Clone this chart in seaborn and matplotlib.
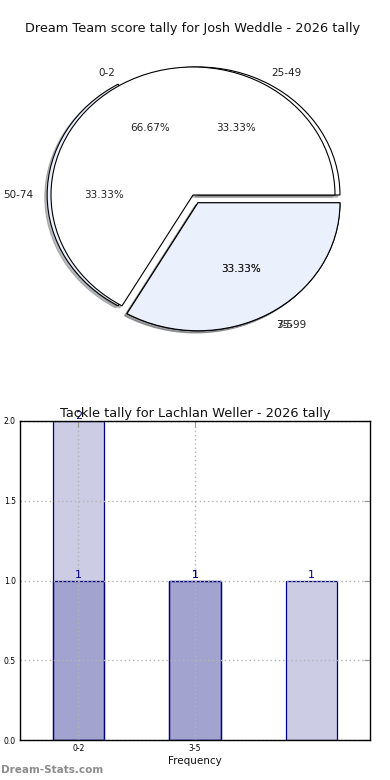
import matplotlib
matplotlib.use('Agg')
import matplotlib.pyplot as plt
import seaborn as sns
import pandas as pd

# ---------------- data ----------------
pie_title = "Dream Team score tally for Josh Weddle - 2026 tally"
pie_a_labels = ['0-2', '3-5']
pie_a_values = [2, 1]
pie_b_labels = ['25-49', '50-74', '75-99']
pie_b_values = [1, 1, 1]

bar_title = "Tackle tally for Lachlan Weller - 2026 tally"
bar_categories = ['0-2', '3-5', '6-8']
bar_series_a = [2, 1, 1]
bar_series_b = [1, 1]
bar_tick_labels = ['0-2', '3-5']
y_ticks = [0.0, 0.5, 1.0, 1.5, 2.0]

# ---------------- style ----------------
sns.set_theme(style='white')
plt.rcParams['font.family'] = ['DejaVu Sans']

W, H = 390, 780
fig = plt.figure(figsize=(W / 100, H / 100), dpi=100)

light = '#eaf0fc'
wedge_kw = dict(edgecolor='black', linewidth=0.8)
text_kw = dict(fontsize=7.5, color='#222222')
shadow_kw = {'ox': -0.012, 'oy': -0.012, 'shade': 0.5}

# ---------------- pie ----------------
ax1 = fig.add_axes([15.5 / W, 1 - 355 / H, 355 / W, 320 / H])
wb, tb, pb = ax1.pie(pie_b_values, labels=pie_b_labels, explode=[0.0, 0.027, 0.07],
                     colors=['white', light, 'white'], autopct='%1.2f%%',
                     shadow=shadow_kw, wedgeprops=wedge_kw, textprops=text_kw)
wb[0].set_center((0.035, 0.0))
ax1.pie(pie_a_values, labels=pie_a_labels, explode=[0, 0.07],
        colors=['white', light], autopct='%1.2f%%', shadow=shadow_kw,
        wedgeprops=wedge_kw, textprops=text_kw)
ax1.set_aspect('auto')
ax1.set_xlim(-1.25, 1.25)
ax1.set_ylim(-1.25, 1.25)
ax1.set_title(pie_title, fontsize=9.3, pad=-2, color='#111111')

# ---------------- bars ----------------
ax2 = fig.add_axes([20 / W, 40 / H, 350 / W, 319 / H])
dfa = pd.DataFrame({'cat': bar_categories, 'val': bar_series_a})
dfb = pd.DataFrame({'cat': bar_categories[:len(bar_series_b)], 'val': bar_series_b})
sns.barplot(data=dfa, x='cat', y='val', order=bar_categories, ax=ax2,
            width=0.44, color='navy', errorbar=None)
sns.barplot(data=dfb, x='cat', y='val', order=bar_categories, ax=ax2,
            width=0.44, color='navy', errorbar=None)
for p in ax2.patches:
    p.set_facecolor((0, 0, 0.5, 0.2))
    p.set_edgecolor('navy')
    p.set_linewidth(0.9)

for i, v in enumerate(bar_series_a):
    ax2.text(i, v, str(v), ha='center', va='bottom', fontsize=8, color='navy')
for i, v in enumerate(bar_series_b):
    ax2.text(i, v, str(v), ha='center', va='bottom', fontsize=8, color='navy')

ax2.set_xlim(-0.5, 2.5)
ax2.set_ylim(0, 2)
ax2.set_xticks(range(len(bar_tick_labels)))
ax2.set_xticklabels(bar_tick_labels)
ax2.set_yticks(y_ticks)
ax2.set_yticklabels([f'{t:.1f}' for t in y_ticks])
ax2.grid(True, linestyle=(0, (1, 2)), color='#b4b4b4', linewidth=1.0)
ax2.set_axisbelow(False)
for s in ax2.spines.values():
    s.set_color('black')
    s.set_linewidth(1)
    s.set_zorder(10)
ax2.tick_params(direction='in', length=4, width=0.8, top=True, right=True,
                labelsize=5.5, pad=3, colors='black')
ax2.tick_params(axis='both', which='major', color='#999999')
ax2.set_xlabel('Frequency', fontsize=7.5, labelpad=2, color='#111111')
ax2.set_ylabel('')
ax2.set_title(bar_title, fontsize=9.3, pad=3, color='#111111')

fig.text(0.002, 10 / H, 'Dream-Stats.com', fontsize=7.5, color='#8c8c8c',
         va='center', ha='left', fontweight='bold')

fig.savefig('out.png', dpi=100)
